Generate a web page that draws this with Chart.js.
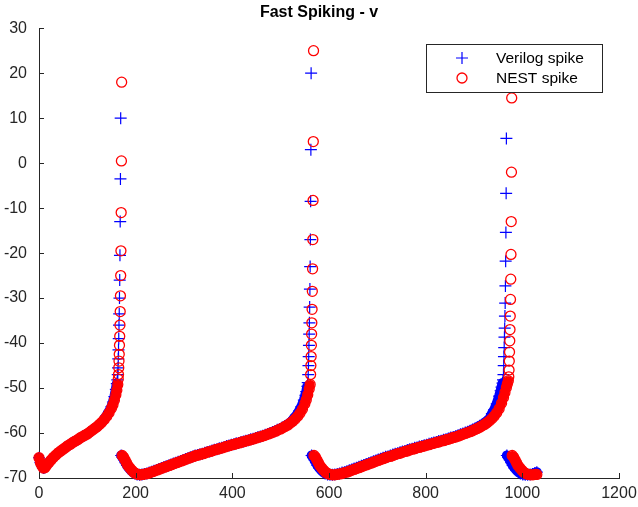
<!DOCTYPE html>
<html>
<head>
<meta charset="utf-8">
<script src="https://cdn.jsdelivr.net/npm/chart.js@4.4.0/dist/chart.umd.min.js"></script>
<style>
  body { margin: 0; background: #fff; }
  #wrap { width: 638px; height: 507px; }
</style>
</head>
<body>
<div id="wrap"><canvas id="spikeChart" width="638" height="507"></canvas></div>
<script>
const xTicks = [0, 200, 400, 600, 800, 1000, 1200];
const yTicks = [-70, -60, -50, -40, -30, -20, -10, 0, 10, 20, 30];
const seriesNames = ['Verilog spike', 'NEST spike'];

// time (ms) and membrane potential v (mV)
const verilogTime = [
  0, 3, 6, 9, 12, 15, 20, 25, 30, 35, 40, 45, 50, 55, 60, 65, 70, 75, 80, 85, 90, 95, 100, 105, 110, 115, 120, 125, 130, 135, 140, 145, 150, 153, 156, 159, 161, 162,
  163, 163.5, 164, 164.5, 165, 165.5, 166, 166.5, 167, 167.5, 168, 168.5, 169,
  170, 173, 176, 179, 182, 186, 190, 194, 198, 203, 208, 213, 218, 223, 228,
  233, 238, 243, 248, 253, 258, 263, 268, 273, 278, 283, 288, 293, 298, 303, 308, 313, 318, 323,
  328, 333, 338, 343, 348, 353, 358, 363, 368, 373, 378, 383, 388, 393, 398, 403, 408, 413, 418, 423,
  428, 433, 438, 443, 448, 453, 458, 463, 468, 473, 478, 483, 488, 493, 498, 503, 508, 513, 518, 523,
  528, 533, 538, 543, 548, 551, 553, 555, 556,
  557, 557.5, 558, 558.5, 559, 559.5, 560, 560.5, 561, 561.5, 562, 562.5, 563,
  564, 567, 570, 573, 576, 580, 584, 588, 592, 597, 602, 607, 612, 617, 622,
  627, 632, 637, 642, 647, 652, 657, 662, 667, 672, 677, 682, 687, 692, 697, 702, 707, 712, 717, 722,
  727, 732, 737, 742, 747, 752, 757, 762, 767, 772, 777, 782, 787, 792, 797, 802, 807, 812, 817, 822,
  827, 832, 837, 842, 847, 852, 857, 862, 867, 872, 877, 882, 887, 892, 897, 902, 907, 912, 917, 922,
  927, 932, 937, 942, 947, 952, 955, 957, 959, 960,
  961, 961.5, 962, 962.5, 963, 963.5, 964, 964.5, 965, 965.5, 966, 966.5, 967,
  968, 971, 974, 977, 980, 984, 988, 992, 996, 1001, 1006, 1011, 1016, 1021, 1026, 1030
];
const verilogV = [
  -65.5, -66.6, -67.3, -67.8, -67.7, -67.3, -66.6, -66.0, -65.4, -64.9, -64.4, -64.0, -63.6, -63.2, -62.8, -62.5,
  -62.1, -61.8, -61.5, -61.1, -60.8, -60.5, -60.2, -59.8, -59.4, -59.0, -58.6, -58.1, -57.6,
  -56.9, -56.1, -55.2, -54.1, -53.1, -51.9, -50.3, -49.0, -48.2,
  -47.0, -45.5, -43.5, -41.5, -39.0, -36.0, -33.5, -30.0, -26.0, -20.5, -13.0, -3.5, 10.0,
  -65.0, -65.4, -66.0, -66.6, -67.2, -67.8, -68.3, -68.7, -69.0, -69.2, -69.3, -69.2, -69.1, -69.0, -68.8,
  -68.6, -68.4, -68.2, -68.0, -67.8, -67.6, -67.4, -67.2, -67.0, -66.8, -66.6, -66.4, -66.2, -66.0, -65.8, -65.6, -65.4, -65.2, -65.0,
  -64.9, -64.7, -64.6, -64.4, -64.2, -64.1, -63.9, -63.7, -63.6, -63.4, -63.3, -63.1, -62.9, -62.8, -62.6, -62.5, -62.3, -62.2, -62.0, -61.9,
  -61.7, -61.6, -61.4, -61.3, -61.1, -60.9, -60.8, -60.6, -60.4, -60.2, -60.0, -59.8, -59.6, -59.3, -59.1, -58.8, -58.5, -58.2, -57.8, -57.4,
  -56.6, -56.0, -55.1, -54.1, -52.7, -51.6, -50.8, -49.6, -48.8,
  -47.0, -45.0, -43.0, -40.5, -38.0, -35.5, -32.0, -28.0, -23.0, -17.0, -8.5, 3.0, 20.0,
  -65.0, -65.4, -66.0, -66.6, -67.2, -67.8, -68.3, -68.7, -69.0, -69.2, -69.3, -69.3, -69.2, -69.1, -69.0,
  -68.8, -68.7, -68.5, -68.3, -68.1, -67.9, -67.7, -67.5, -67.3, -67.1, -66.9, -66.7, -66.5, -66.3, -66.1, -65.9, -65.7, -65.5, -65.3, -65.2,
  -65.0, -64.8, -64.6, -64.5, -64.3, -64.1, -64.0, -63.8, -63.6, -63.5, -63.3, -63.2, -63.0, -62.9, -62.7, -62.6, -62.4, -62.3, -62.1, -62.0,
  -61.8, -61.7, -61.5, -61.4, -61.2, -61.0, -60.9, -60.7, -60.5, -60.3, -60.1, -59.9, -59.7, -59.5, -59.2, -59.0, -58.7, -58.4, -58.1, -57.7,
  -57.3, -56.8, -55.7, -54.8, -53.5, -51.8, -50.6, -49.8, -48.9, -48.2,
  -47.0, -45.0, -43.0, -41.0, -38.7, -36.7, -34.0, -31.1, -27.3, -21.8, -15.4, -6.7, 5.5,
  -65.0, -65.4, -66.0, -66.6, -67.2, -67.8, -68.3, -68.7, -69.0, -69.2, -69.3, -69.3, -69.2, -69.1, -68.9, -68.7
];

const nestTime = [
  0, 3, 6, 9, 12, 15, 20, 25, 30, 35, 40, 45, 50, 55, 60, 65, 70, 75, 80, 85, 90, 95, 100, 105, 110, 115, 120, 125, 130, 135, 140, 145, 150, 153, 156, 159, 161, 163,
  164, 164.5, 165, 165.5, 166, 166.5, 167, 167.5, 168, 168.5, 169, 169.5, 170, 170.5, 171,
  172, 175, 178, 181, 184, 188, 192, 196, 200, 205, 210, 215, 220, 225, 230,
  235, 240, 245, 250, 255, 260, 265, 270, 275, 280, 285, 290, 295, 300, 305, 310, 315, 320, 325,
  330, 335, 340, 345, 350, 355, 360, 365, 370, 375, 380, 385, 390, 395, 400, 405, 410, 415, 420, 425,
  430, 435, 440, 445, 450, 455, 460, 465, 470, 475, 480, 485, 490, 495, 500, 505, 510, 515, 520, 525,
  530, 535, 540, 545, 550, 553, 556, 559, 561,
  562, 562.5, 563, 563.5, 564, 564.5, 565, 565.5, 566, 566.5, 567, 567.5, 568,
  569, 572, 575, 578, 581, 585, 589, 593, 597, 602, 607, 612, 617, 622, 627,
  632, 637, 642, 647, 652, 657, 662, 667, 672, 677, 682, 687, 692, 697, 702, 707, 712, 717, 722, 727,
  732, 737, 742, 747, 752, 757, 762, 767, 772, 777, 782, 787, 792, 797, 802, 807, 812, 817, 822, 827,
  832, 837, 842, 847, 852, 857, 862, 867, 872, 877, 882, 887, 892, 897, 902, 907, 912, 917, 922, 927,
  932, 937, 942, 947, 952, 957, 961, 964, 967, 969, 971,
  972, 972.5, 973, 973.5, 974, 974.5, 975, 975.5, 976, 976.5, 977, 977.5, 978,
  979, 982, 985, 988, 991, 995, 999, 1003, 1007, 1012, 1017, 1022, 1027, 1030
];
const nestV = [
  -65.5, -66.6, -67.3, -67.8, -67.7, -67.3, -66.6, -66.0, -65.4, -64.9, -64.4, -64.0, -63.6, -63.2, -62.8, -62.5,
  -62.1, -61.8, -61.5, -61.1, -60.8, -60.5, -60.2, -59.8, -59.4, -59.0, -58.6, -58.1, -57.6,
  -57.0, -56.3, -55.5, -54.5, -53.7, -52.7, -51.5, -50.5, -49.2,
  -48.0, -47.0, -45.5, -44.0, -42.5, -40.5, -38.5, -36.0, -33.0, -29.5, -25.0, -19.5, -11.0, 0.5, 18.0,
  -65.0, -65.4, -66.0, -66.6, -67.2, -67.8, -68.3, -68.7, -69.0, -69.2, -69.3, -69.2, -69.1, -69.0, -68.8,
  -68.6, -68.4, -68.2, -68.0, -67.8, -67.6, -67.4, -67.2, -67.0, -66.8, -66.6, -66.4, -66.2, -66.0, -65.8, -65.6, -65.4, -65.2, -65.0,
  -64.9, -64.7, -64.6, -64.4, -64.2, -64.1, -63.9, -63.7, -63.6, -63.4, -63.3, -63.1, -62.9, -62.8, -62.6, -62.5, -62.3, -62.2, -62.0, -61.9,
  -61.7, -61.6, -61.4, -61.3, -61.1, -60.9, -60.8, -60.6, -60.4, -60.2, -60.0, -59.8, -59.6, -59.3, -59.1, -58.8, -58.5, -58.2, -57.8, -57.4,
  -56.9, -56.3, -55.6, -54.7, -53.5, -52.6, -51.5, -50.2, -49.2,
  -47.0, -45.0, -43.0, -40.5, -38.0, -35.5, -32.5, -28.5, -23.5, -17.0, -8.3, 4.8, 25.0,
  -65.0, -65.4, -66.0, -66.6, -67.2, -67.8, -68.3, -68.7, -69.0, -69.2, -69.3, -69.3, -69.2, -69.1, -69.0,
  -68.8, -68.7, -68.5, -68.3, -68.1, -67.9, -67.7, -67.5, -67.3, -67.1, -66.9, -66.7, -66.5, -66.3, -66.1, -65.9, -65.7, -65.5, -65.3, -65.2,
  -65.0, -64.8, -64.6, -64.5, -64.3, -64.1, -64.0, -63.8, -63.6, -63.5, -63.3, -63.2, -63.0, -62.9, -62.7, -62.6, -62.4, -62.3, -62.1, -62.0,
  -61.8, -61.7, -61.5, -61.4, -61.2, -61.0, -60.9, -60.7, -60.5, -60.3, -60.1, -59.9, -59.7, -59.5, -59.2, -59.0, -58.7, -58.4, -58.1, -57.7,
  -57.3, -56.8, -56.2, -55.5, -54.6, -53.4, -52.1, -51.0, -49.9, -49.1, -48.4,
  -47.5, -46.0, -44.0, -42.0, -39.5, -37.0, -34.0, -30.3, -25.8, -20.3, -13.0, -2.0, 14.5,
  -65.0, -65.4, -66.0, -66.6, -67.2, -67.8, -68.3, -68.7, -69.0, -69.2, -69.3, -69.3, -69.2, -69.2
];

const toPoints = (ts, vs) => ts.map((t, i) => ({ x: t, y: vs[i] }));

const axisColor = '#262626';
const fontFamily = '"Liberation Sans", Arial, Helvetica, sans-serif';

// the real recording is sampled much finer than the points above, so the slow
// parts of the trace show up as a solid band; join close samples with a wide stroke
const bandSegment = color => ({
  borderColor: c => (c.p1.parsed.x - c.p0.parsed.x > 1.5 &&
    Math.abs(c.p1.parsed.y - c.p0.parsed.y) < 3) ? color : 'rgba(0,0,0,0)'
});

// octave style ticks: short marks pointing into the plot
const inwardTicks = {
  id: 'inwardTicks',
  afterDraw(chart) {
    const { ctx, chartArea: a, scales } = chart;
    ctx.save();
    ctx.strokeStyle = axisColor;
    ctx.lineWidth = 1;
    ctx.beginPath();
    xTicks.forEach(v => {
      const px = Math.round(scales.x.getPixelForValue(v)) + 0.5;
      ctx.moveTo(px, a.bottom);
      ctx.lineTo(px, a.bottom - 5);
    });
    yTicks.forEach(v => {
      const py = Math.round(scales.y.getPixelForValue(v)) + 0.5;
      ctx.moveTo(a.left, py);
      ctx.lineTo(a.left + 5, py);
    });
    ctx.stroke();
    ctx.restore();
  }
};

// boxed legend in the upper right corner
const boxLegend = {
  id: 'boxLegend',
  afterDraw(chart) {
    const { ctx } = chart;
    const x = 426, y = 44, w = 176, h = 48;
    ctx.save();
    ctx.fillStyle = '#fff';
    ctx.fillRect(x, y, w, h);
    ctx.strokeStyle = axisColor;
    ctx.lineWidth = 1;
    ctx.strokeRect(x + 0.5, y + 0.5, w, h);
    chart.data.datasets.forEach((ds, i) => {
      const cx = x + 36, cy = y + 14 + i * 20;
      ctx.strokeStyle = ds.pointBorderColor;
      ctx.lineWidth = ds.pointBorderWidth;
      ctx.beginPath();
      if (ds.pointStyle === 'cross') {
        ctx.moveTo(cx - ds.pointRadius, cy);
        ctx.lineTo(cx + ds.pointRadius, cy);
        ctx.moveTo(cx, cy - ds.pointRadius);
        ctx.lineTo(cx, cy + ds.pointRadius);
      } else {
        ctx.arc(cx, cy, ds.pointRadius, 0, Math.PI * 2);
      }
      ctx.stroke();
      ctx.fillStyle = '#000';
      ctx.font = '15.5px ' + fontFamily;
      ctx.textBaseline = 'middle';
      ctx.fillText(ds.label, x + 70, cy + 1);
    });
    ctx.restore();
  }
};

const tickFont = { family: fontFamily, size: 16 };

new Chart(document.getElementById('spikeChart'), {
  type: 'scatter',
  data: {
    datasets: [
      {
        label: seriesNames[0],
        data: toPoints(verilogTime, verilogV),
        pointStyle: 'cross',
        pointRadius: 6,
        pointBorderWidth: 1.2,
        pointBorderColor: '#0000ff',
        pointBackgroundColor: '#0000ff',
        showLine: true,
        borderWidth: 10,
        borderCapStyle: 'round',
        borderJoinStyle: 'round',
        segment: bandSegment('#0000ff'),
        clip: false,
        order: 1
      },
      {
        label: seriesNames[1],
        data: toPoints(nestTime, nestV),
        pointStyle: 'circle',
        pointRadius: 5,
        pointBorderWidth: 1.3,
        pointBorderColor: '#ff0000',
        pointBackgroundColor: 'rgba(0,0,0,0)',
        showLine: true,
        borderWidth: 9,
        borderCapStyle: 'round',
        borderJoinStyle: 'round',
        segment: bandSegment('#ff0000'),
        clip: false,
        order: 0
      }
    ]
  },
  options: {
    responsive: false,
    animation: false,
    events: [],
    layout: { padding: 0 },
    plugins: {
      legend: { display: false },
      tooltip: { enabled: false },
      title: {
        display: true,
        text: 'Fast Spiking - v',
        color: '#000',
        font: { family: fontFamily, size: 16, weight: 'bold' },
        padding: { top: 3, bottom: 6 }
      }
    },
    scales: {
      x: {
        type: 'linear',
        min: 0,
        max: 1200,
        afterBuildTicks: s => { s.ticks = xTicks.map(v => ({ value: v })); },
        afterFit: s => { s.height = 29; s.paddingRight = 19; },
        grid: { display: false, drawTicks: false },
        border: { display: true, color: axisColor, width: 1 },
        ticks: { font: tickFont, color: axisColor, padding: 6, maxRotation: 0, callback: v => String(v) }
      },
      y: {
        min: -70,
        max: 30,
        afterBuildTicks: s => { s.ticks = yTicks.map(v => ({ value: v })); },
        afterFit: s => { s.width = 39; },
        grid: { display: false, drawTicks: false },
        border: { display: true, color: axisColor, width: 1 },
        ticks: { font: tickFont, color: axisColor, padding: 12, callback: v => String(v) }
      }
    }
  },
  plugins: [inwardTicks, boxLegend]
});
</script>
</body>
</html>
